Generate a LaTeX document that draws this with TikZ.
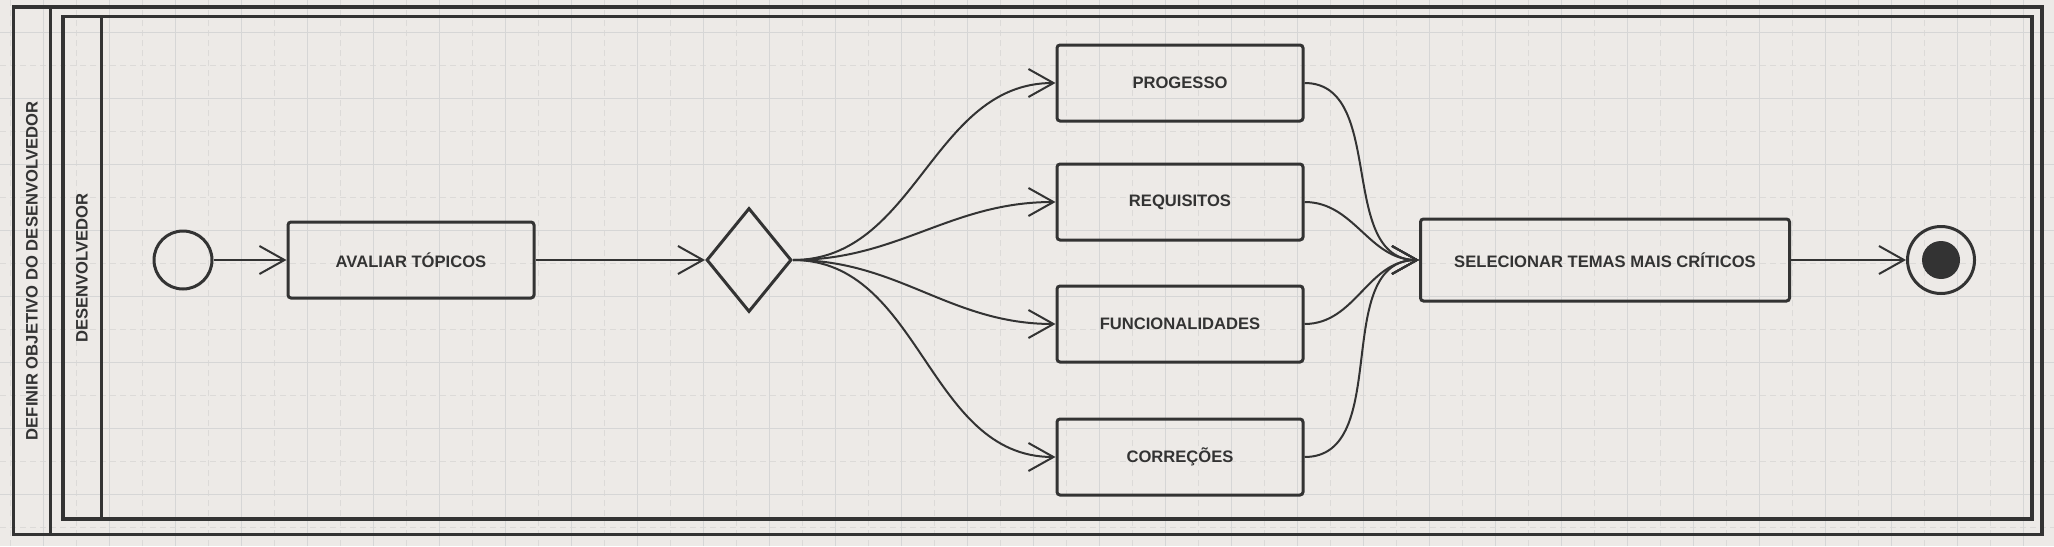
\documentclass[tikz,border=0pt]{standalone}
\usepackage{fontspec}
\setmainfont{Liberation Sans}
\usepackage{xcolor}
\usepackage{tikz}
\usetikzlibrary{shapes,arrows.meta,positioning,calc}

\definecolor{linha}{HTML}{333333}
\definecolor{fundo}{HTML}{EDEAE7}
\definecolor{grade}{HTML}{D6D6D6}
\definecolor{gradefina}{HTML}{DCDAD8}

\begin{document}
\begin{tikzpicture}[x=0.5pt, y=-0.5pt, ->, >={Straight Barb[length=12.5pt,width=14pt]},
  line width=1pt, color=linha,
  font=\fontsize{8.3pt}{10pt}\selectfont\bfseries,
  acao/.style={draw, line width=1.5pt, rounded corners=1.5pt, minimum width=123pt, minimum height=38pt, inner sep=0pt},
  decisao/.style={diamond, draw, line width=1.5pt, minimum width=42.5pt, minimum height=52pt, inner sep=0pt},
  inicio/.style={circle, draw, line width=1.5pt, minimum size=29pt, inner sep=0pt},
  fim/.style={circle, draw, line width=1.5pt, minimum size=33.5pt, inner sep=0pt,
    path picture={\fill[linha] (path picture bounding box.center) circle (9.5pt);}},
  raia/.style={-, draw=linha, line width=1.6pt},
  rotulo/.style={rotate=90}]

% fundo e grade
\fill[fundo] (0,0) rectangle (2054,546);
\useasboundingbox (0,0) rectangle (2054,546);
\draw[-, gradefina, line width=0.6pt, dash pattern=on 3pt off 2pt, step=33pt, shift={(10.3,-0.7)}] (-10.3,0.7) grid (2043.7,546.7);
\draw[-, grade, line width=0.6pt, step=33pt, shift={(43.3,32.3)}] (-43.3,-32.3) grid (2010.7,513.7);

% raias
\draw[raia] (13.8,7) rectangle (2042,534.5);
\draw[raia] (50.5,7) -- (50.5,534.5);
\draw[raia] (63,16.7) rectangle (2032,519);
\draw[raia] (101.4,16.7) -- (101.4,519);

\node[rotulo] (Raia1) at (32,271)  {DEFINIR OBJETIVO DO DESENVOLVEDOR};
\node[rotulo] (Raia2) at (82,268)  {DESENVOLVEDOR};

\node[inicio]  (Inicio)  at (183,260)                               {};
\node[acao]    (Avaliar) [right of = Inicio, node distance=114pt]   {AVALIAR TÓPICOS};
\node[decisao] (Decisao) [right of = Avaliar, node distance=169pt]  {};
\node[acao]    (Req)     [right of = Decisao, node distance=215.5pt, yshift=29pt] {REQUISITOS};
\node[acao]    (Prog)    [above of = Req, node distance=59.5pt]     {PROGESSO};
\node[acao]    (Func)    [below of = Req, node distance=61pt]       {FUNCIONALIDADES};
\node[acao]    (Corr)    [below of = Func, node distance=66.5pt]    {CORREÇÕES};
\node[acao, minimum width=184.5pt, minimum height=41pt] (Sel) [right of = Decisao, node distance=428pt] {SELECIONAR TEMAS MAIS CRÍTICOS};
\node[fim]     (Fim)     [right of = Sel, node distance=168pt]      {};

\path(Inicio)  edge   (Avaliar);
\path(Avaliar) edge   (Decisao);

\path(Decisao) edge[out=0, in=180]   (Prog);
\path(Decisao) edge[out=0, in=180]   (Req);
\path(Decisao) edge[out=0, in=180]   (Func);
\path(Decisao) edge[out=0, in=180]   (Corr);

\path(Prog)    edge[out=0, in=180]   (Sel);
\path(Req)     edge[out=0, in=180]   (Sel);
\path(Func)    edge[out=0, in=180]   (Sel);
\path(Corr)    edge[out=0, in=180]   (Sel);

\path(Sel)     edge   (Fim);

\end{tikzpicture}
\end{document}
